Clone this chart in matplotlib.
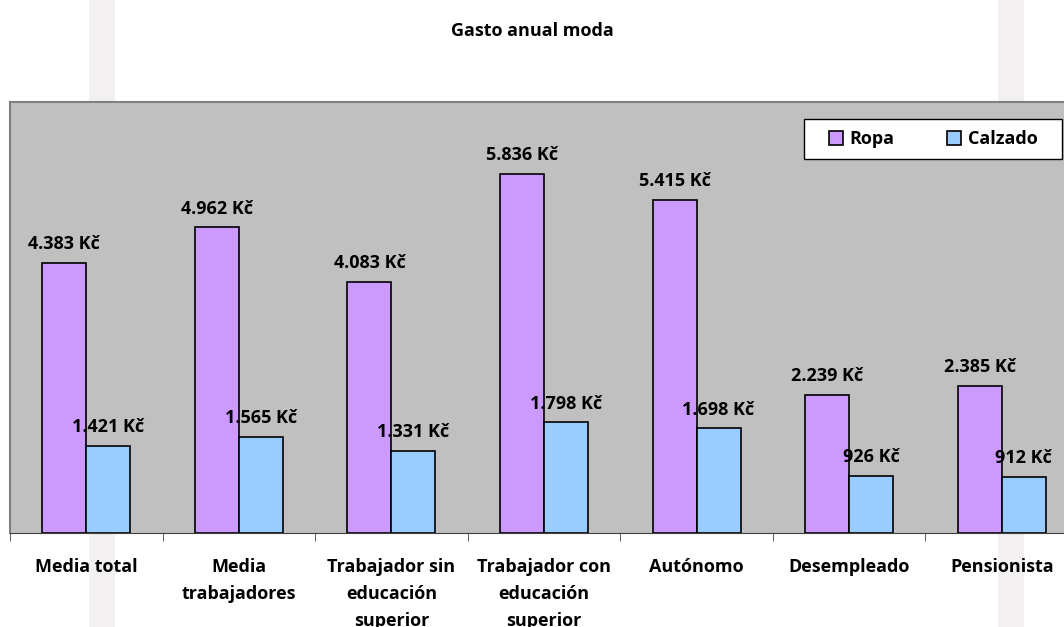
import matplotlib
matplotlib.use("Agg")
import matplotlib.pyplot as plt
from matplotlib.patches import Rectangle
import numpy as np

plt.rcParams['font.family'] = ['Open Sans', 'DejaVu Sans']
plt.rcParams['font.weight'] = 'bold'

categories = ["Media total", "Media\ntrabajadores", "Trabajador sin\neducación\nsuperior",
              "Trabajador con\neducación\nsuperior", "Autónomo", "Desempleado", "Pensionista"]
ropa = [4383, 4962, 4083, 5836, 5415, 2239, 2385]
calzado = [1421, 1565, 1331, 1798, 1698, 926, 912]
series_names = ["Ropa", "Calzado"]
title = "Gasto anual moda"


def fmt_kc(v):
    # thousands separator is a dot
    return f"{v:,}".replace(",", ".") + " Kč"


W, H = 1064, 627
fig = plt.figure(figsize=(W / 100, H / 100), dpi=100)
fig.patch.set_facecolor("white")

# faint pink vertical bands in the background
for x0, x1 in [(89, 115), (998, 1024)]:
    fig.patches.append(Rectangle((x0 / W, 0), (x1 - x0) / W, 1, transform=fig.transFigure,
                                 facecolor="#F3F0F1", edgecolor="none", zorder=-10))

ax = fig.add_axes([10 / W, 94 / H, 1068 / W, 431 / H])
ax.set_facecolor("#C0C0C0")

x = np.arange(len(categories))
bw = 0.288
b1 = ax.bar(x - bw / 2, ropa, bw, color="#CC99FF", edgecolor="black", linewidth=1.2, label=series_names[0])
b2 = ax.bar(x + bw / 2, calzado, bw, color="#99CCFF", edgecolor="black", linewidth=1.2, label=series_names[1])

fs = 13
for bars, vals in [(b1, ropa), (b2, calzado)]:
    for rect, v in zip(bars, vals):
        ax.annotate(fmt_kc(v), (rect.get_x() + rect.get_width() / 2, v), xytext=(0, 7),
                    textcoords="offset points", ha="center", va="bottom", fontsize=fs, fontweight="bold")

ax.set_xlim(-0.5, len(categories) - 0.5)
ax.set_ylim(0, 7000)
ax.set_yticks([])
ax.set_xticks(x)
ax.set_xticklabels(categories, fontsize=fs, fontweight="bold", linespacing=1.65)
ax.tick_params(axis="x", which="major", length=0, pad=18)
ax.set_xticks(np.arange(len(categories) + 1) - 0.5, minor=True)
ax.tick_params(axis="x", which="minor", length=6, color="#404040", direction="out")

for s in ["top", "left"]:
    ax.spines[s].set_color("#808080")
    ax.spines[s].set_linewidth(1.5)
ax.spines["bottom"].set_color("#404040")
ax.spines["right"].set_visible(False)

# legend box drawn separately so its padding matches the original
bx0, by0, bx1, by1 = 804, 119, 1062, 159
fig.patches.append(Rectangle((bx0 / W, 1 - by1 / H), (bx1 - bx0) / W, (by1 - by0) / H,
                             transform=fig.transFigure, facecolor="white", edgecolor="black",
                             linewidth=1, zorder=5))
leg = fig.legend(handles=[b1, b2], ncol=2, loc="center",
                 bbox_to_anchor=((bx0 + bx1) / 2 / W, 1 - (by0 + by1) / 2 / H),
                 frameon=False, handlelength=0.8, handleheight=0.8,
                 columnspacing=2.9, handletextpad=0.35, borderpad=0.0,
                 prop={"weight": "bold", "size": fs})
leg.set_zorder(6)

fig.text(0.5, 1 - 31 / H, title, ha="center", va="center", fontsize=fs, fontweight="bold")

fig.savefig("out.png", dpi=100)
